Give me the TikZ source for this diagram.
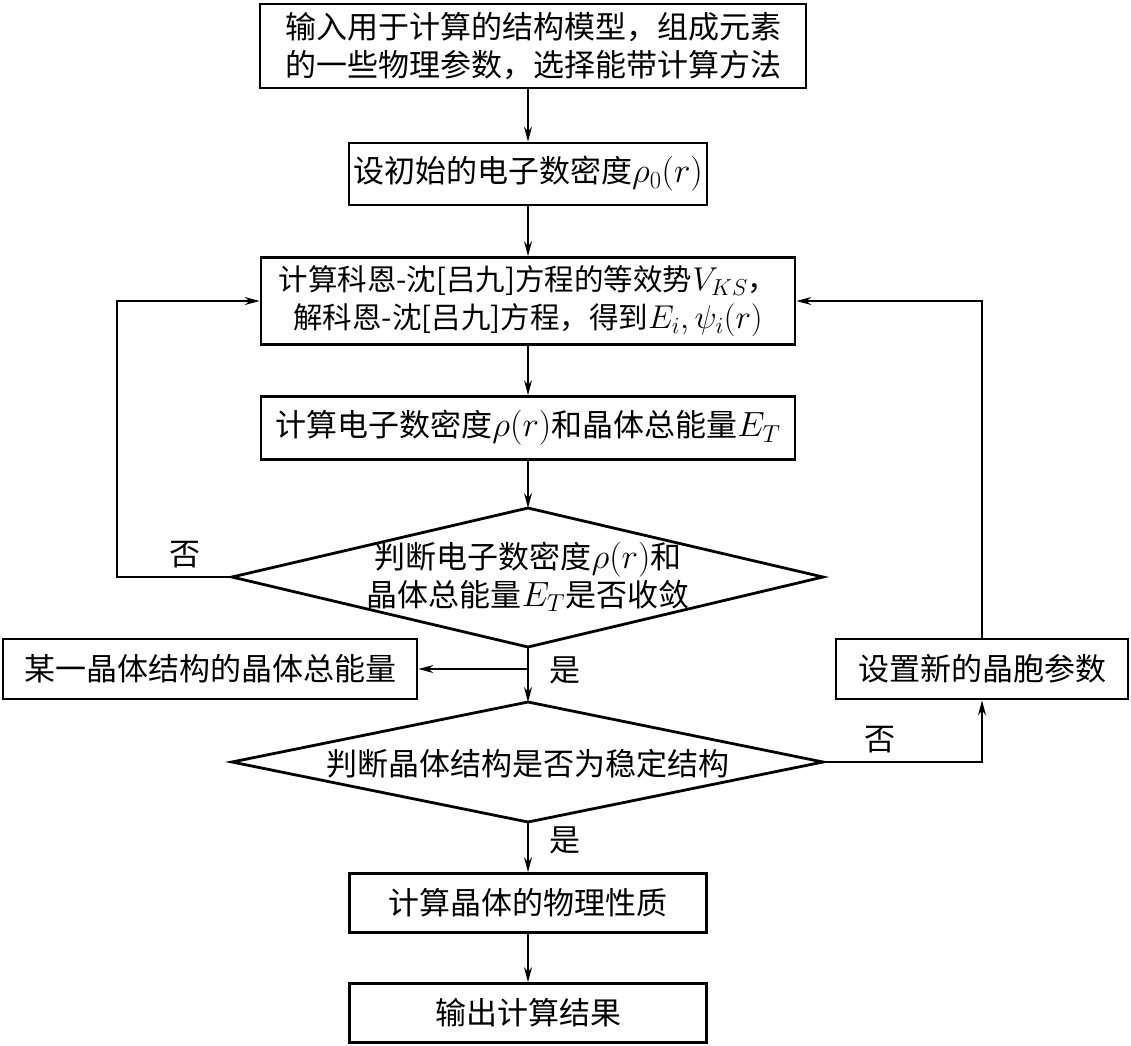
\RequirePackage{fix-cm}
\documentclass[tikz,border=0pt]{standalone}
\usepackage{fontspec}
\setmainfont{Noto Sans CJK SC}
\usetikzlibrary{arrows.meta}
\newcommand\fz{\fontsize{31}{38}\selectfont}
\newcommand\mth[1]{{\fontsize{35}{38}\selectfont$#1$}}
\newcommand\mths[1]{{\fontsize{33}{38}\selectfont$#1$}}
\tikzset{
  box/.style={draw, line width=2.8pt, rectangle, inner sep=0pt, align=center, font=\fz},
  diam/.style={draw, line width=2.8pt, line join=miter},
  conn/.style={line width=1.3pt},
  arr/.style={conn, -{Stealth[length=15pt,width=8pt,inset=5pt]}},
  lab/.style={font=\fz, inner sep=0pt, align=center},
}
\begin{document}
\begin{tikzpicture}[x=1pt,y=-1pt]
\useasboundingbox (0,0) rectangle (1131,1045);
% boxes
\node[box, minimum width=546pt, minimum height=84pt] (input) at (533,46)
  {输入用于计算的结构模型，组成元素\\的一些物理参数，选择能带计算方法};
\node[box, minimum width=358pt, minimum height=62pt] (init) at (528,174)
  {设初始的电子数密度\mth{\rho_0(r)}};
\node[box, minimum width=534pt, minimum height=87pt, font=\fontsize{29.5}{38}\selectfont] (ks) at (528,301)
  {计算科恩-沈[吕九]方程的等效势\mths{V_{KS}}，\\解科恩-沈[吕九]方程，得到\mths{E_i,\psi_i(r)}};
\node[box, minimum width=534pt, minimum height=63pt] (dens) at (528,428)
  {计算电子数密度\mth{\rho(r)}和晶体总能量\mth{E_T}};
% diamond 1
\coordinate (d1n) at (528,508);
\coordinate (d1s) at (528,647);
\coordinate (d1w) at (232,577);
\coordinate (d1e) at (823,577);
\draw[diam] (d1n) -- (d1e) -- (d1s) -- (d1w) -- cycle;
\node[lab] (d1t) at (528,577) {判断电子数密度\mth{\rho(r)}和\\晶体总能量\mth{E_T}是否收敛};
% diamond 2
\coordinate (d2n) at (528,702);
\coordinate (d2s) at (528,822);
\coordinate (d2w) at (232,762);
\coordinate (d2e) at (823,762);
\draw[diam] (d2n) -- (d2e) -- (d2s) -- (d2w) -- cycle;
\node[lab] (d2t) at (528,764) {判断晶体结构是否为稳定结构};
% side boxes
\node[box, minimum width=414pt, minimum height=60pt] (energy) at (210,669)
  {某一晶体结构的晶体总能量};
\node[box, minimum width=292pt, minimum height=60pt] (cell) at (982,669)
  {设置新的晶胞参数};
% bottom boxes
\node[box, minimum width=357pt, minimum height=59pt] (phys) at (528,903)
  {计算晶体的物理性质};
\node[box, minimum width=357pt, minimum height=59pt] (out) at (528,1013)
  {输出计算结果};
% connectors
\draw[arr] (input.south -| init) -- (init.north);
\draw[arr] (init.south) -- (ks.north);
\draw[arr] (ks.south) -- (dens.north);
\draw[arr] (dens.south) -- (d1n);
\draw[arr] (d1s) -- (d2n);
\draw[arr] (d1s |- energy) -- (energy.east);
\coordinate (lloop) at (117,577);
\draw[arr] (d1w) -- (lloop) |- (ks.west);
\draw[arr] (cell.north) |- (ks.east);
\draw[arr] (d2e) -| (cell.south);
\draw[arr] (d2s) -- (phys.north);
\draw[arr] (phys.south) -- (out.north);
% labels
\node[lab] (no1) at (185,555) {否};
\node[lab] (yes1) at (565,670) {是};
\node[lab] (no2) at (880,740) {否};
\node[lab] (yes2) at (565,840) {是};
\end{tikzpicture}
\end{document}
